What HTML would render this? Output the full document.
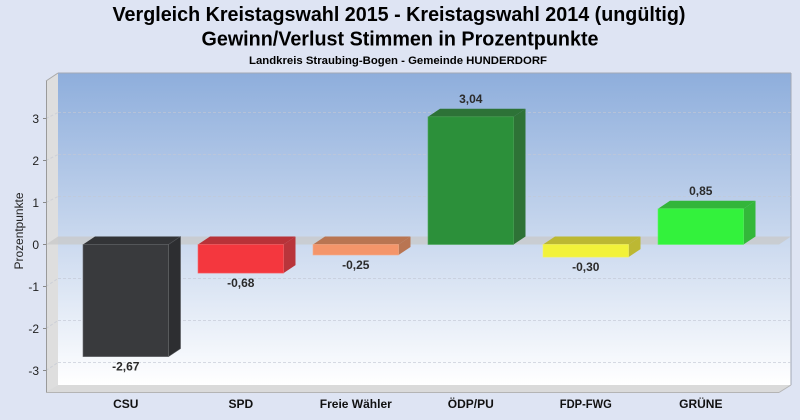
<!DOCTYPE html>
<html><head><meta charset="utf-8"><style>
html,body{margin:0;padding:0;background:#dee4f3;}
svg{display:block;}
text{font-family:"Liberation Sans",Arial,sans-serif;}
</style></head><body>
<svg width="800" height="420" viewBox="0 0 800 420" xmlns="http://www.w3.org/2000/svg">
<defs>
<linearGradient id="bw" x1="0" y1="73" x2="0" y2="385" gradientUnits="userSpaceOnUse">
<stop offset="0" stop-color="#8eaedc"/>
<stop offset="0.55" stop-color="#ccdaef"/>
<stop offset="1" stop-color="#ffffff"/>
</linearGradient>
</defs>
<rect width="800" height="420" fill="#dee4f3"/>
<!-- titles -->
<text x="399" y="21" font-size="20" font-weight="bold" text-anchor="middle" textLength="573" lengthAdjust="spacingAndGlyphs" fill="#000">Vergleich Kreistagswahl 2015 - Kreistagswahl 2014 (ungültig)</text>
<text x="400" y="45.5" font-size="20" font-weight="bold" text-anchor="middle" textLength="397" lengthAdjust="spacingAndGlyphs" fill="#000">Gewinn/Verlust Stimmen in Prozentpunkte</text>
<text x="398" y="64" font-size="11" font-weight="bold" text-anchor="middle" textLength="298" lengthAdjust="spacingAndGlyphs" fill="#000">Landkreis Straubing-Bogen - Gemeinde HUNDERDORF</text>

<!-- back wall -->
<rect x="58" y="73" width="733" height="312" fill="url(#bw)"/>
<line x1="58" y1="73" x2="791" y2="73" stroke="#a3a9b6" stroke-width="1"/>
<line x1="791" y1="73" x2="791" y2="385" stroke="#a3a9b6" stroke-width="1"/>
<!-- left wall -->
<polygon points="46,81 58,73 58,385 46,392" fill="#dedede"/>
<line x1="46" y1="81" x2="58" y2="73" stroke="#a8a8a8"/>
<!-- floor -->
<polygon points="58,385 791,385 779,392 46,392" fill="#dadada"/>
<line x1="46" y1="392.5" x2="779" y2="392.5" stroke="#b4b4b4"/>
<line x1="779" y1="392.5" x2="791" y2="385" stroke="#b4b4b4"/>

<!-- gridlines -->
<g stroke="rgba(195,200,212,0.65)" stroke-width="1" stroke-dasharray="3,2" fill="none">
<line x1="58" y1="112.5" x2="791" y2="112.5"/>
<line x1="58" y1="154.5" x2="791" y2="154.5"/>
<line x1="58" y1="196.5" x2="791" y2="196.5"/>
<line x1="58" y1="278.5" x2="791" y2="278.5"/>
<line x1="58" y1="320.5" x2="791" y2="320.5"/>
<line x1="58" y1="362.5" x2="791" y2="362.5"/>
<line x1="46" y1="118.5" x2="58" y2="112.5"/>
<line x1="46" y1="160.5" x2="58" y2="154.5"/>
<line x1="46" y1="202.5" x2="58" y2="196.5"/>
<line x1="46" y1="286.5" x2="58" y2="278.5"/>
<line x1="46" y1="328.5" x2="58" y2="320.5"/>
<line x1="46" y1="370.5" x2="58" y2="362.5"/>
</g>

<!-- zero plane -->
<polygon points="46,244.5 58,236.5 791,236.5 779,244.5" fill="rgba(200,200,200,0.75)"/>

<!-- axis line and ticks -->
<line x1="46.5" y1="81" x2="46.5" y2="392" stroke="#9a9a9a"/>
<g stroke="#888" stroke-width="1">
<line x1="43" y1="118.5" x2="46" y2="118.5"/>
<line x1="43" y1="160.5" x2="46" y2="160.5"/>
<line x1="43" y1="202.5" x2="46" y2="202.5"/>
<line x1="43" y1="244.5" x2="46" y2="244.5"/>
<line x1="43" y1="286.5" x2="46" y2="286.5"/>
<line x1="43" y1="328.5" x2="46" y2="328.5"/>
<line x1="43" y1="370.5" x2="46" y2="370.5"/>
</g>
<g font-size="12" fill="#222" text-anchor="end">
<text x="39" y="123">3</text>
<text x="39" y="165">2</text>
<text x="39" y="207">1</text>
<text x="39" y="249">0</text>
<text x="39" y="291">-1</text>
<text x="39" y="333">-2</text>
<text x="39" y="375">-3</text>
</g>
<text transform="translate(23,231) rotate(-90)" font-size="12" fill="#222" text-anchor="middle" textLength="77" lengthAdjust="spacingAndGlyphs">Prozentpunkte</text>

<!-- bars -->
<!-- CSU -2.67 -->
<polygon points="83,244.5 95,236.5 180.5,236.5 168.5,244.5" fill="#333437"/>
<polygon points="168.5,244.5 180.5,236.5 180.5,348.6 168.5,356.6" fill="#2d2e31" stroke="#55575b" stroke-width="0.6"/>
<rect x="83" y="244.5" width="85.5" height="112.1" fill="#393a3d" stroke="#6a6b6f" stroke-width="0.6"/>
<!-- SPD -0.68 -->
<polygon points="198,244.5 210,236.5 295.5,236.5 283.5,244.5" fill="#b83238"/>
<polygon points="283.5,244.5 295.5,236.5 295.5,265.1 283.5,273.1" fill="#b9353b"/>
<rect x="198" y="244.5" width="85.5" height="28.6" fill="#f4373e" stroke="#f56a6e" stroke-width="0.6"/>
<!-- Freie Wähler -0.25 -->
<polygon points="313,244.5 325,236.5 410.5,236.5 398.5,244.5" fill="#b97552"/>
<polygon points="398.5,244.5 410.5,236.5 410.5,247 398.5,255" fill="#b97552"/>
<rect x="313" y="244.5" width="85.5" height="10.5" fill="#f4956a" stroke="#f6ad8a" stroke-width="0.6"/>
<!-- ÖDP/PU 3.04 -->
<polygon points="428,116.8 440,108.8 525.5,108.8 513.5,116.8" fill="#2d7237"/>
<polygon points="513.5,116.8 525.5,108.8 525.5,236.5 513.5,244.5" fill="#2e7236"/>
<rect x="428" y="116.8" width="85.5" height="127.7" fill="#2c903a" stroke="#4ea85a" stroke-width="0.6"/>
<!-- FDP-FWG -0.30 -->
<polygon points="543,244.5 555,236.5 640.5,236.5 628.5,244.5" fill="#bcb833"/>
<polygon points="628.5,244.5 640.5,236.5 640.5,249.1 628.5,257.1" fill="#bcb833"/>
<rect x="543" y="244.5" width="85.5" height="12.6" fill="#f2f23a" stroke="#f5f56a" stroke-width="0.6"/>
<!-- GRÜNE 0.85 -->
<polygon points="658,208.8 670,200.8 755.5,200.8 743.5,208.8" fill="#33b53a"/>
<polygon points="743.5,208.8 755.5,200.8 755.5,236.5 743.5,244.5" fill="#33b83a"/>
<rect x="658" y="208.8" width="85.5" height="35.7" fill="#33f23c" stroke="#5cf564" stroke-width="0.6"/>

<!-- value labels -->
<g font-size="12" font-weight="bold" fill="#2b2b2b" text-anchor="middle">
<text x="125.8" y="370.6">-2,67</text>
<text x="240.8" y="287">-0,68</text>
<text x="355.8" y="269">-0,25</text>
<text x="470.8" y="102.8">3,04</text>
<text x="585.8" y="271">-0,30</text>
<text x="700.8" y="194.8">0,85</text>
</g>

<!-- x labels -->
<g font-size="12" font-weight="bold" fill="#111" text-anchor="middle">
<text x="125.8" y="408">CSU</text>
<text x="240.8" y="408">SPD</text>
<text x="355.8" y="408">Freie Wähler</text>
<text x="470.8" y="408">ÖDP/PU</text>
<text x="585.8" y="408" textLength="52" lengthAdjust="spacingAndGlyphs">FDP-FWG</text>
<text x="700.8" y="408">GRÜNE</text>
</g>
</svg>
</body></html>
